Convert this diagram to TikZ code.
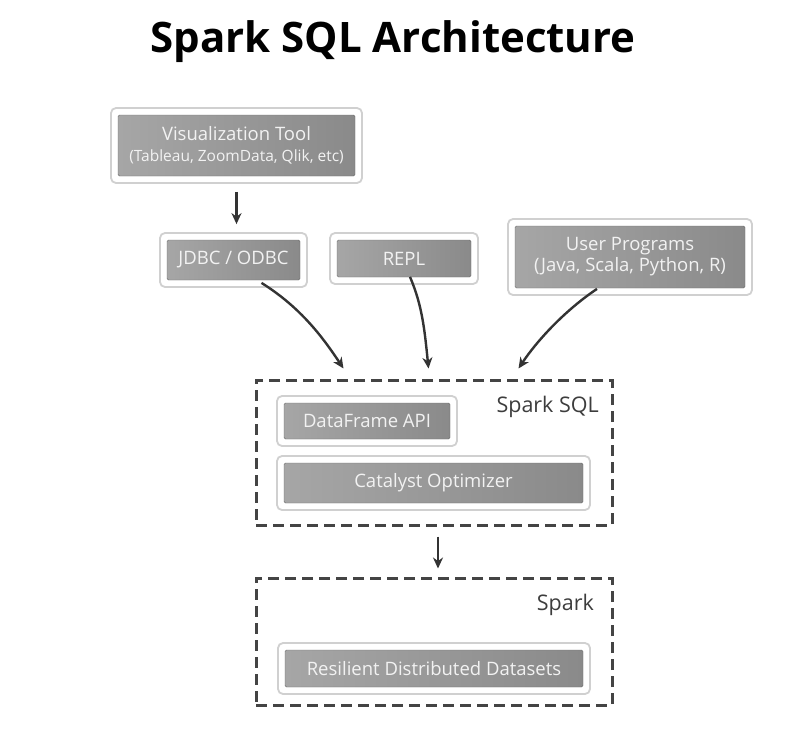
\documentclass[tikz,border=0pt]{standalone}
\usepackage{fontspec}
\setmainfont{Open Sans}
\usetikzlibrary{arrows.meta,calc}
\definecolor{boxgrayA}{HTML}{A6A6A6}
\definecolor{boxgrayB}{HTML}{8A8A8A}
\definecolor{boxtext}{HTML}{F2F2F2}
\definecolor{framegray}{HTML}{D0D0D0}
\definecolor{arrowgray}{HTML}{333333}
\definecolor{dashgray}{HTML}{444444}
\tikzset{
  outerbox/.style={draw=framegray, line width=1.8pt, fill=white, rounded corners=5pt, inner sep=0pt},
  innerbox/.style={draw=boxgrayB!80!black, line width=0.4pt, left color=boxgrayA, right color=boxgrayB, rounded corners=1.5pt, inner sep=0pt, text=boxtext, align=center, font=\fontsize{18.5}{23}\selectfont},
  arr/.style={draw=arrowgray, line width=2.4pt, -{Stealth[length=11pt,width=10pt]}},
  dashbox/.style={draw=dashgray, line width=3pt, dash pattern=on 11pt off 6pt},
  lbl/.style={text=dashgray!90!black, font=\fontsize{21.5}{24}\selectfont, inner sep=0pt}
}
\newcommand\gbox[6]{%
  \node[outerbox, minimum width=#4pt+14pt, minimum height=#5pt+14pt] (#1o) at (#2,#3) {};
  \node[innerbox, minimum width=#4pt, minimum height=#5pt] (#1) at (#2,#3) {#6};
}
\begin{document}
\begin{tikzpicture}[x=1pt,y=-1pt]
\useasboundingbox[fill=white] (0,0) rectangle (810,728);
\node[font=\bfseries\fontsize{42}{48}\selectfont, inner sep=0pt] (title) at (393,42) {Spark SQL Architecture};

\gbox{viz}{236.5}{145.5}{237}{61}{Visualization Tool\\[-2pt]{\fontsize{15.5}{19}\selectfont (Tableau, ZoomData, Qlik, etc)}}
\gbox{jdbc}{233.5}{260}{133}{40}{JDBC / ODBC}
\gbox{repl}{404}{258.5}{134}{37}{REPL}
\gbox{user}{630}{257}{230}{62}{User Programs\\[-2pt](Java, Scala, Python, R)}

\node[dashbox, minimum width=356pt, minimum height=145pt, inner sep=0pt] (sqlbox) at (434,452.5) {};
\node[lbl, anchor=north east] (sqllbl) at (599,396) {Spark SQL};
\gbox{df}{367}{421}{166}{36}{DataFrame API}
\gbox{cat}{433.5}{483}{299}{40}{Catalyst Optimizer}

\node[dashbox, minimum width=356pt, minimum height=127pt, inner sep=0pt] (sparkbox) at (434,641.5) {};
\node[lbl, anchor=north east] (sparklbl) at (594,594) {Spark};
\gbox{rdd}{434}{668.5}{298}{37}{Resilient Distributed Datasets}

\coordinate (e1) at ($(sqlbox.north west)+(89,-10)$);
\coordinate (e2) at ($(sqlbox.north west)+(174,-10)$);
\coordinate (e3) at ($(sqlbox.north west)+(264,-10)$);

\draw[arr] ([yshift=-8pt]vizo.south) -- ([yshift=8pt]vizo.south |- jdbco.north);
\draw[arr] ($(jdbco.south)+(28,-5)$) .. controls +(40,25) and +(-20,-30) .. (e1);
\draw[arr] ($(replo.south)+(6,-8)$) .. controls +(12,28) and +(-4,-40) .. (e2);
\draw[arr] ($(usero.south)+(-33,-7)$) .. controls +(-30,20) and +(20,-30) .. (e3);
\draw[arr] ([xshift=4pt,yshift=-10pt]sqlbox.south) -- ([xshift=4pt,yshift=8pt]sparkbox.north);
\end{tikzpicture}
\end{document}
